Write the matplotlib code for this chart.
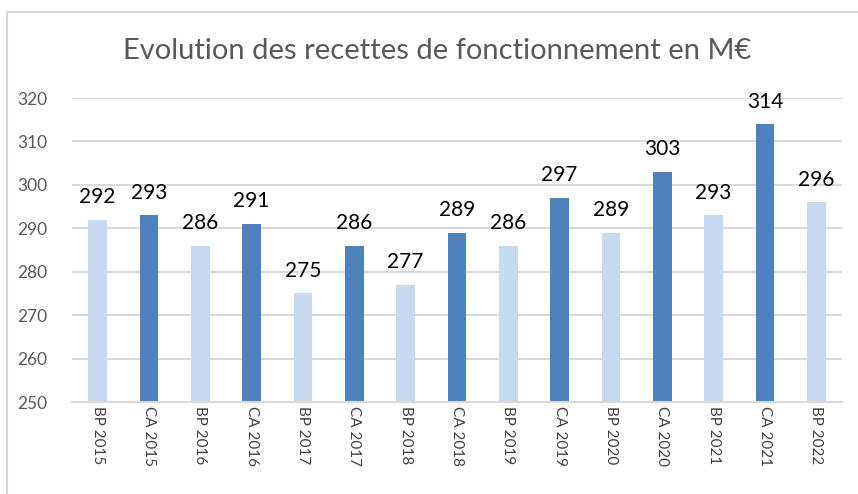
import matplotlib
matplotlib.use("Agg")
import matplotlib.pyplot as plt
from matplotlib.patches import Rectangle

# recettes de fonctionnement, M€ (BP = budget primitif, CA = compte administratif)
labels = ["BP 2015", "CA 2015", "BP 2016", "CA 2016", "BP 2017", "CA 2017",
          "BP 2018", "CA 2018", "BP 2019", "CA 2019", "BP 2020", "CA 2020",
          "BP 2021", "CA 2021", "BP 2022"]
values = [292, 293, 286, 291, 275, 286, 277, 289, 286, 297, 289, 303, 293, 314, 296]
yticks = [250, 260, 270, 280, 290, 300, 310, 320]

light = "#c6d9f1"
dark = "#4f81bd"
grey_txt = "#595959"
grid_col = "#d9d9d9"

plt.rcParams["font.family"] = ["Lato", "DejaVu Sans"]

W, H = 858, 494
fig = plt.figure(figsize=(W / 100, H / 100), dpi=100)

# outer chart frame (only left and top edges visible in the crop)
fig.add_artist(Rectangle((7 / W, -0.1), 2, 1 - 12 / H + 0.1, transform=fig.transFigure,
                         fill=False, edgecolor=grid_col, linewidth=1.5))

ax = fig.add_axes([72 / W, 1 - 402 / H, 770 / W, 304 / H])

colors = [light if lab.startswith("BP") else dark for lab in labels]
x = list(range(len(labels)))
bars = ax.bar(x, [v - 250 for v in values], bottom=250, width=0.36, color=colors, zorder=2)
ax.bar_label(bars, labels=[str(v) for v in values], padding=9, fontsize=15, color="black")

ax.set_xlim(-0.5, len(labels) - 0.5)
ax.set_ylim(250, 320)
ax.set_yticks(yticks)
ax.set_yticklabels([str(t) for t in yticks], fontsize=12.5, color=grey_txt)
ax.yaxis.grid(True, color=grid_col, linewidth=1.5, zorder=0)
ax.set_axisbelow(True)
ax.tick_params(axis="y", length=0, pad=18)

ax.set_xticks(x)
ax.set_xticklabels(labels, rotation=-90, fontsize=11, color="#404040", va="top")
ax.tick_params(axis="x", length=0, pad=3)

for side in ["top", "right", "left"]:
    ax.spines[side].set_visible(False)
ax.spines["bottom"].set_color(grid_col)
ax.spines["bottom"].set_linewidth(1.5)
ax.spines["bottom"].set_zorder(3)

fig.text(437.5 / W, 1 - 51 / H, "Evolution des recettes de fonctionnement en M€",
         ha="center", va="center", fontsize=21, color=grey_txt)

fig.savefig("out.png", dpi=100)
